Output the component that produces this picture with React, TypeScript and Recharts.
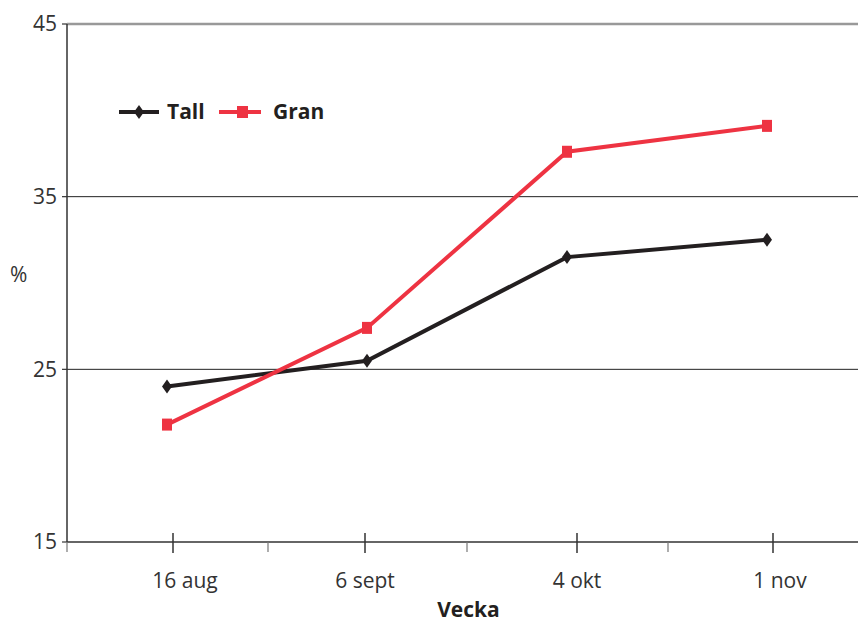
import React from 'react';
import { LineChart, Line, XAxis, YAxis, ReferenceLine } from 'recharts';

const categories = ['16 aug', '6 sept', '4 okt', '1 nov'];
const tallValues = [24.0, 25.5, 31.5, 32.5];
const granValues = [21.8, 27.4, 37.6, 39.1];
const yTicks = [15, 25, 35, 45];
const majorTickPositions = [1.03, 1.99, 3.05, 4.03];
const minorTickPositions = [0.5, 1.505, 2.5, 3.505];
const labelShift = [12, 0, 0, 7];

const allTicks = [...majorTickPositions, ...minorTickPositions].sort((a, b) => a - b);
const data = categories.map((c, i) => ({ x: i + 1, name: c, tall: tallValues[i], gran: granValues[i] }));

const FONT = '"Open Sans", "Noto Sans", sans-serif';
const TALL = '#231f20';
const GRAN = '#ee3342';

const AxisTick = (props: any) => {
  const { x, y, payload } = props;
  const mi = majorTickPositions.indexOf(payload.value);
  if (mi < 0) {
    return <line x1={x} x2={x} y1={y} y2={y + 10} stroke="#777" strokeWidth={1.2} />;
  }
  return (
    <g>
      <line x1={x} x2={x} y1={y - 9} y2={y + 11} stroke="#333" strokeWidth={1.5} />
      <text x={x + labelShift[mi]} y={y + 46} textAnchor="middle" fontSize={21} fill="#333" fontFamily={FONT}>
        {categories[mi]}
      </text>
    </g>
  );
};

const Diamond = (props: any) => {
  const { cx, cy, index } = props;
  return <path key={'t' + index} d={`M${cx},${cy - 7} L${cx + 5},${cy} L${cx},${cy + 7} L${cx - 5},${cy} Z`} fill={TALL} />;
};

const Square = (props: any) => {
  const { cx, cy, index } = props;
  return <rect key={'g' + index} x={cx - 5} y={cy - 6} width={10} height={12} fill={GRAN} />;
};

const LegendBox = () => (
  <svg width={240} height={30} style={{ position: 'absolute', left: 115, top: 97 }}>
    <line x1={4} x2={44} y1={15} y2={15} stroke={TALL} strokeWidth={4} />
    <path d="M24,8 L29,15 L24,22 L19,15 Z" fill={TALL} />
    <text x={52} y={22} fontSize={21} fontWeight={700} fill={TALL} fontFamily={FONT}>Tall</text>
    <line x1={104} x2={146} y1={15} y2={15} stroke={GRAN} strokeWidth={4} />
    <rect x={122} y={9} width={11} height={12} fill={GRAN} />
    <text x={158} y={22} fontSize={21} fontWeight={700} fill={TALL} fontFamily={FONT}>Gran</text>
  </svg>
);

export default function App() {
  return (
    <div style={{ position: 'absolute', left: 0, top: 0, width: 858, height: 622, background: '#fff' }}>
      <LineChart width={858} height={622} data={data} margin={{ top: 24, right: 0, bottom: 0, left: 0 }}>
        <ReferenceLine y={25} stroke="#222" strokeWidth={1} />
        <ReferenceLine y={35} stroke="#222" strokeWidth={1} />
        <ReferenceLine y={45} stroke="#999" strokeWidth={2.5} />
        <XAxis
          dataKey="x"
          type="number"
          domain={[0.5, 4.455]}
          ticks={allTicks}
          tick={<AxisTick />}
          tickLine={false}
          tickSize={0}
          tickMargin={0}
          axisLine={{ stroke: '#333', strokeWidth: 1.5 }}
          height={80}
          interval={0}
          allowDataOverflow
          label={{ value: 'Vecka', position: 'insideBottom', offset: 5, dx: 6, fontSize: 21, fontWeight: 700, fill: '#231f20', fontFamily: FONT }}
        />
        <YAxis
          type="number"
          domain={[15, 45]}
          ticks={yTicks}
          width={67}
          tickSize={5}
          tickMargin={5}
          tickLine={{ stroke: '#333', strokeWidth: 1.2 }}
          axisLine={{ stroke: '#333', strokeWidth: 1.5 }}
          tick={{ fontSize: 21, fill: '#333', fontFamily: FONT }}
          interval={0}
          label={{ value: '%', position: 'insideLeft', offset: 10, dy: -8, fontSize: 21, fill: '#333', fontFamily: FONT }}
        />
        <Line dataKey="tall" stroke={TALL} strokeWidth={4} dot={<Diamond />} activeDot={false} isAnimationActive={false} />
        <Line dataKey="gran" stroke={GRAN} strokeWidth={4} dot={<Square />} activeDot={false} isAnimationActive={false} />
      </LineChart>
      <LegendBox />
    </div>
  );
}
